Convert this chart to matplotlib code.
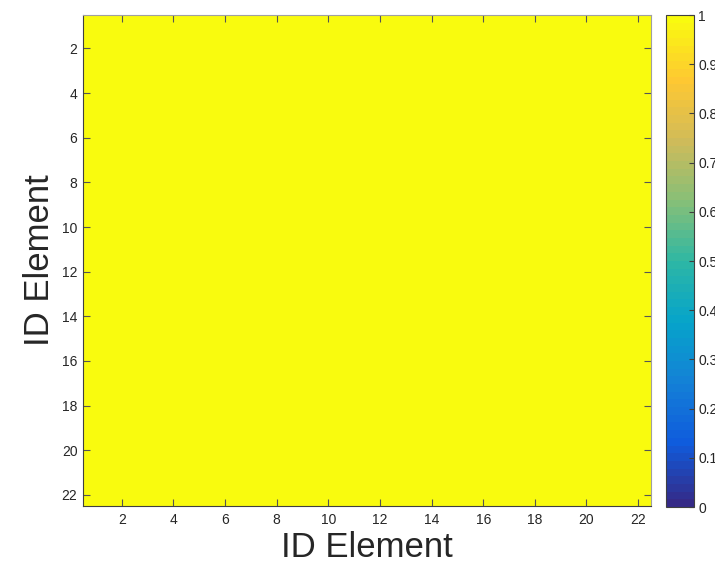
import numpy as np
import matplotlib
matplotlib.use("Agg")
from matplotlib import pyplot as plt
from matplotlib.colors import LinearSegmentedColormap, ListedColormap

plt.rcParams['font.family'] = ['Liberation Sans', 'DejaVu Sans']

# similarity matrix: 22 elements, every entry is 1
n_elem = 22
values = np.ones((n_elem, n_elem))
ticks = [2, 4, 6, 8, 10, 12, 14, 16, 18, 20, 22]
cbar_ticks = [0, 0.1, 0.2, 0.3, 0.4, 0.5, 0.6, 0.7, 0.8, 0.9, 1]
cbar_labels = ['0', '0.1', '0.2', '0.3', '0.4', '0.5', '0.6', '0.7', '0.8', '0.9', '1']

# approx. MATLAB parula, 64 steps
parula_pts = ['#352A87', '#0F5CDD', '#1481D6', '#06A4CA', '#2EB7A4',
              '#87BF77', '#D1BB59', '#FEC832', '#F9FB0E']
_smooth = LinearSegmentedColormap.from_list('parula_s', parula_pts)
parula = ListedColormap(_smooth(np.linspace(0, 1, 64)), name='parula')

fig = plt.figure(figsize=(7.15, 5.71), dpi=100)
ax = fig.add_axes([0.1161, 0.1138, 0.7944, 0.8599])
cax = fig.add_axes([0.9315, 0.1120, 0.0392, 0.8617])

im = ax.imshow(values, cmap=parula, vmin=0, vmax=1, aspect='auto',
               interpolation='nearest',
               extent=[0.5, n_elem + 0.5, n_elem + 0.5, 0.5])

ax.set_xticks(ticks)
ax.set_yticks(ticks)
ax.tick_params(direction='in', length=5, width=0.8, color='#555555',
               labelsize=10, labelcolor='#262626', top=True, right=True)
ax.tick_params(axis='x', pad=5)
ax.tick_params(axis='y', pad=4)
for s in ['left', 'bottom']:
    ax.spines[s].set_color('#404040')
    ax.spines[s].set_linewidth(0.8)
for s in ['top', 'right']:
    ax.spines[s].set_color('#a0a0a0')
    ax.spines[s].set_linewidth(0.8)

ax.set_xlabel('ID Element', fontsize=25, color='#262626', labelpad=3)
ax.set_ylabel('ID Element', fontsize=25, color='#262626')

cb = fig.colorbar(im, cax=cax, ticks=cbar_ticks)
cb.ax.set_yticklabels(cbar_labels)
cb.ax.tick_params(direction='in', length=3.5, width=0.8, color='#404040',
                  labelsize=10, labelcolor='#262626', pad=3)
cb.outline.set_edgecolor('#404040')
cb.outline.set_linewidth(0.8)

plt.savefig('out.png', dpi=100)
